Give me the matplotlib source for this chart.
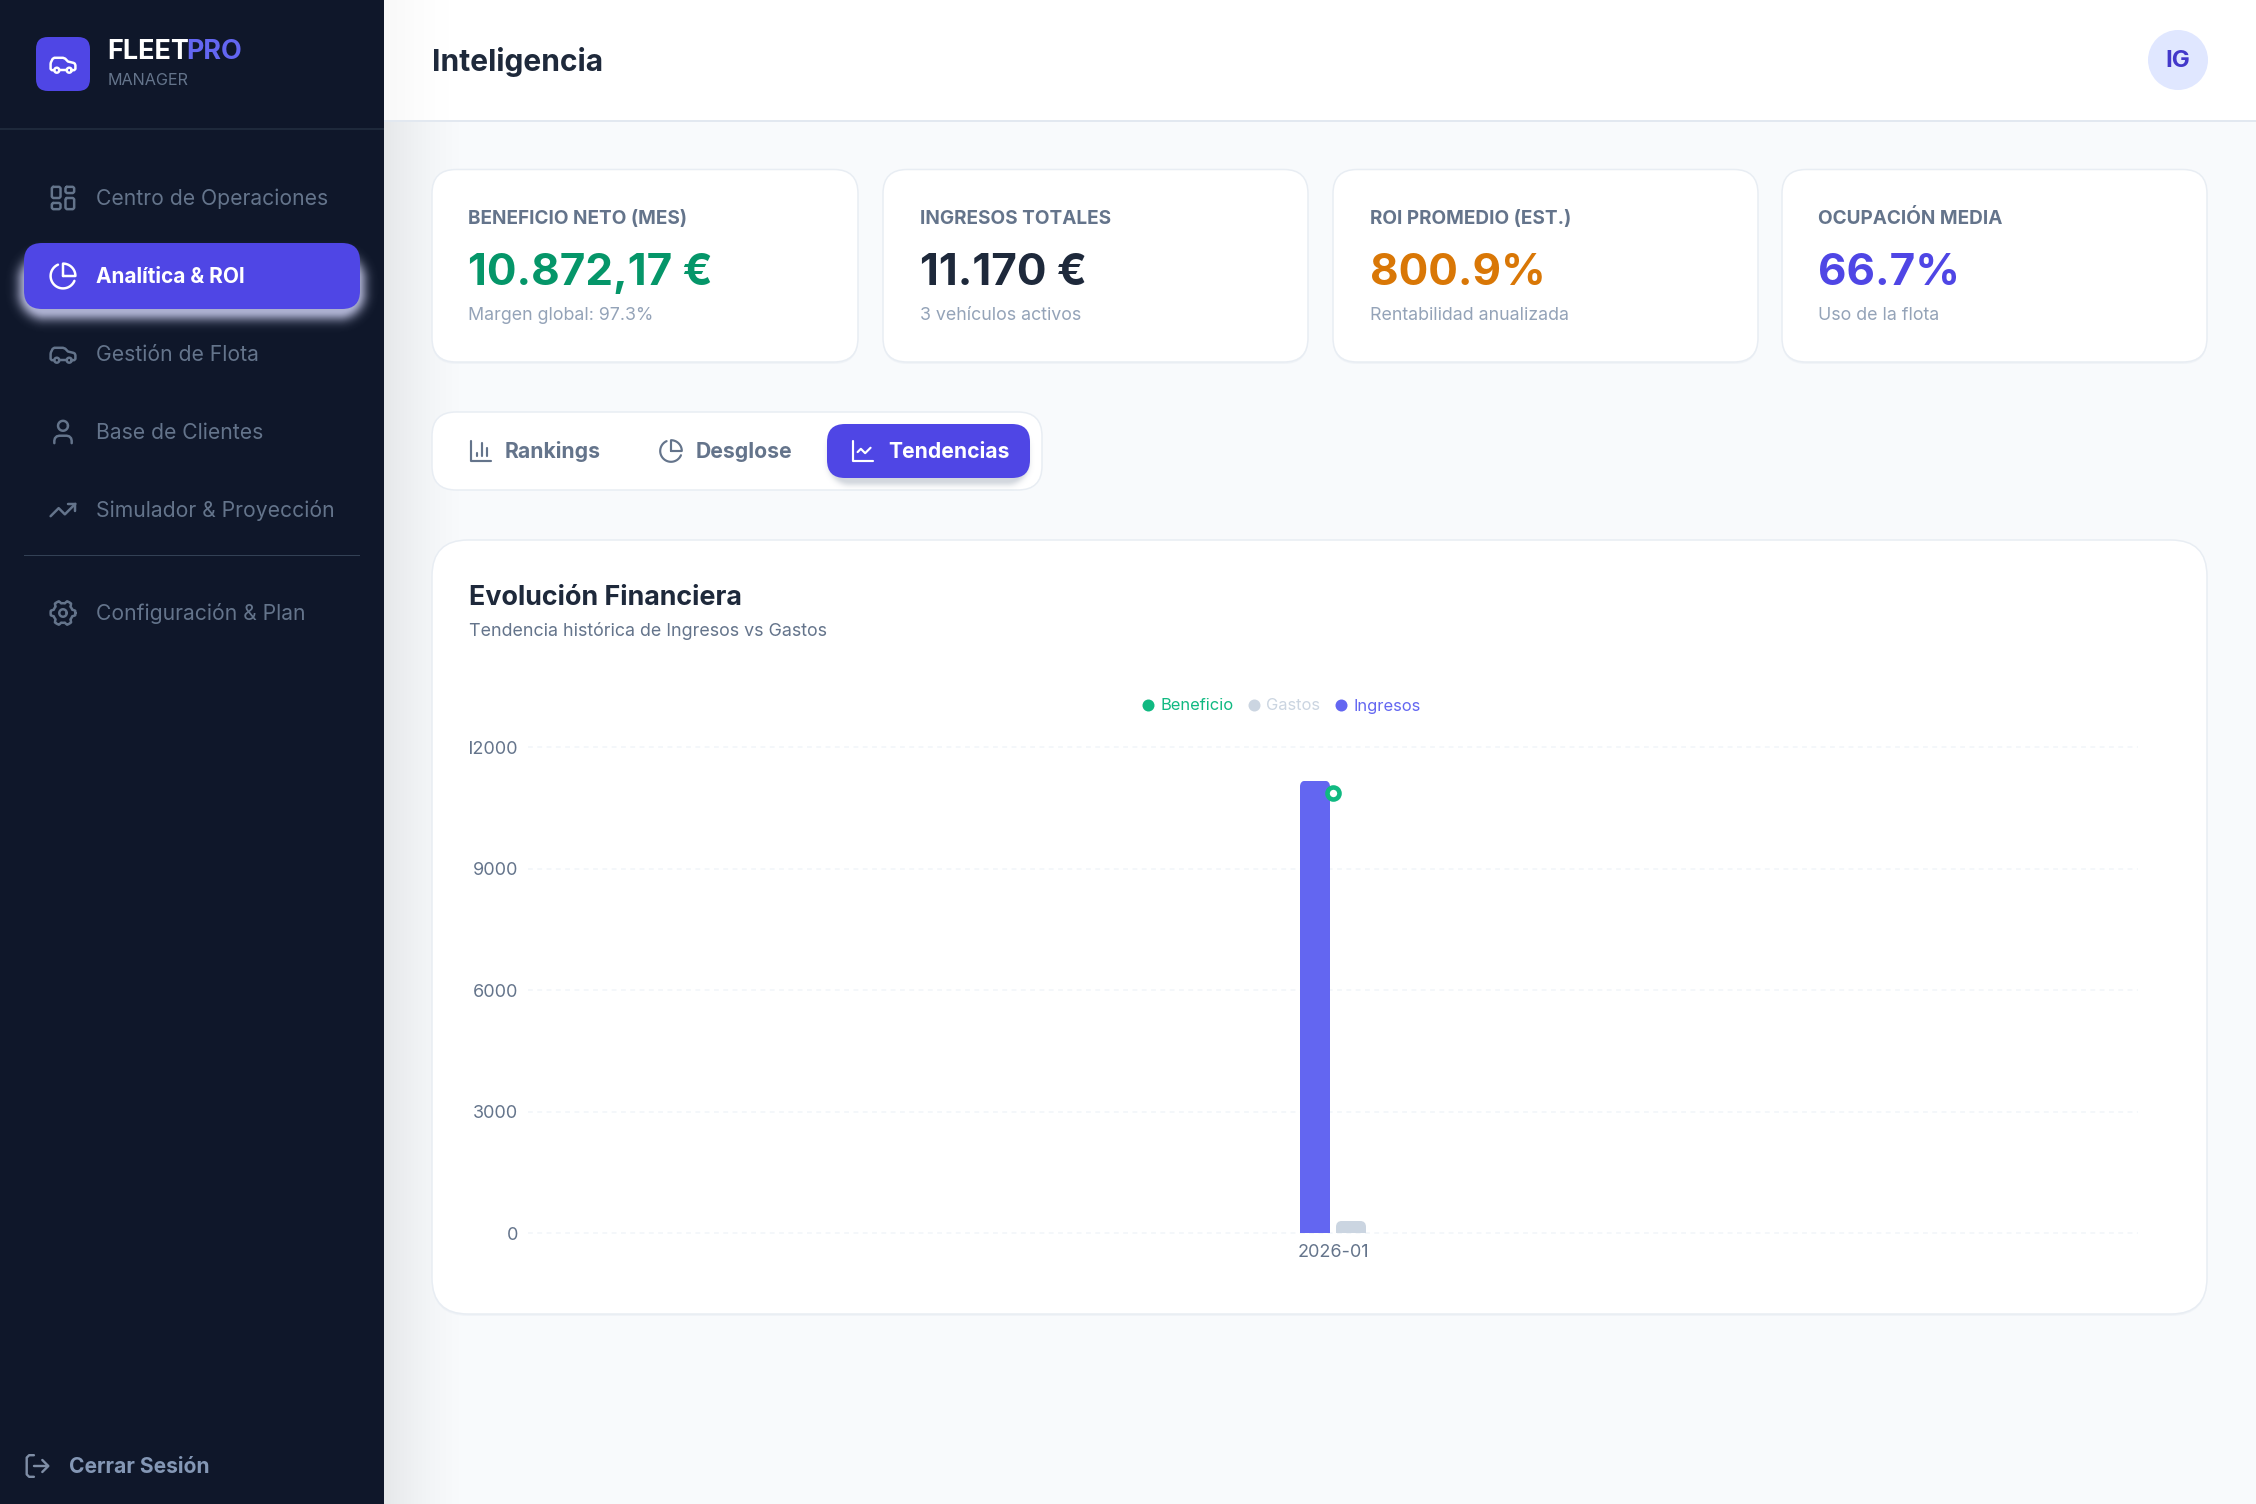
import numpy as np
import matplotlib
matplotlib.use("Agg")
import matplotlib.pyplot as plt
from matplotlib.colors import to_rgb
from matplotlib.patches import FancyBboxPatch, Circle
from matplotlib.lines import Line2D
from matplotlib.transforms import Bbox, IdentityTransform

plt.rcParams["font.family"] = ["Inter", "DejaVu Sans"]

W, H = 2256, 1504
PX = 0.72  # px to pt at dpi 100

# Chart data
months = ["2026-01"]
ingresos = [11170]
gastos = [297.83]
beneficio = [10872.17]
y_ticks = [0, 3000, 6000, 9000, 12000]

# Page content
kpi_labels = ["BENEFICIO NETO (MES)", "INGRESOS TOTALES", "ROI PROMEDIO (EST.)", "OCUPACIÓN MEDIA"]
kpi_values = ["10.872,17 €", "11.170 €", "800.9%", "66.7%"]
kpi_notes = ["Margen global: 97.3%", "3 vehículos activos", "Rentabilidad anualizada", "Uso de la flota"]
kpi_colors = ["#059669", "#1e293b", "#d97706", "#4f46e5"]
menu_items = ["Centro de Operaciones", "Analítica & ROI", "Gestión de Flota", "Base de Clientes",
              "Simulador & Proyección", "Configuración & Plan"]

fig = plt.figure(figsize=(W / 100, H / 100), dpi=100, facecolor="#f8fafc")
bg = fig.add_axes([0, 0, 1, 1], zorder=0)
bg.set_xlim(0, W)
bg.set_ylim(H, 0)
bg.axis("off")


def rrect(x0, y0, x1, y1, r, fc, ec="none", lw=0, alpha=None, z=2):
    p = FancyBboxPatch((x0, y0), x1 - x0, y1 - y0, boxstyle=f"round,pad=0,rounding_size={r}",
                       fc=fc, ec=ec, lw=lw * PX, alpha=alpha, zorder=z)
    bg.add_patch(p)
    return p


def rect(x0, y0, x1, y1, color, z=2):
    bg.fill([x0, x1, x1, x0], [y0, y0, y1, y1], color=color, lw=0, zorder=z)


def glow(x0, y0, x1, y1, r, color, amax, sigma, z):
    # soft box-shadow: falloff from the distance to a rounded box
    m = int(sigma * 3)
    xs = np.arange(x0 - m, x1 + m) + 0.5
    ys = np.arange(y0 - m, y1 + m) + 0.5
    gx, gy = np.meshgrid(xs, ys)
    qx = np.abs(gx - (x0 + x1) / 2) - (x1 - x0) / 2 + r
    qy = np.abs(gy - (y0 + y1) / 2) - (y1 - y0) / 2 + r
    d = np.hypot(np.maximum(qx, 0), np.maximum(qy, 0)) + np.minimum(np.maximum(qx, qy), 0) - r
    img = np.zeros(gx.shape + (4,))
    img[..., :3] = to_rgb(color)
    img[..., 3] = amax * np.exp(-(np.maximum(d, 0) / sigma) ** 2)
    bg.imshow(img, extent=[x0 - m, x1 + m, y1 + m, y0 - m], aspect="auto", zorder=z, interpolation="nearest")
    bg.set_xlim(0, W)
    bg.set_ylim(H, 0)


def txt(x, y, s, px, color, weight="normal", **kw):
    return bg.text(x, y, s, fontsize=px * PX, color=color, fontweight=weight, va="baseline", zorder=6, **kw)


def stroke(cx, cy, s, pts, color, lw=2.0):
    pts = np.array(pts, dtype=float)
    bg.plot(cx + (pts[:, 0] - 12) * s, cy + (pts[:, 1] - 12) * s, color=color, lw=lw * s * PX,
            solid_capstyle="round", solid_joinstyle="round", zorder=6)


def arc(ux, uy, r, a0, a1):
    t = np.radians(np.linspace(a0, a1, 40))
    return np.column_stack([ux + r * np.cos(t), uy + r * np.sin(t)])


def icon_box(cx, cy, s, x, y, w, h, color):
    r = 1.0
    pts = [(x + r, y), (x + w - r, y), (x + w, y + r), (x + w, y + h - r), (x + w - r, y + h),
           (x + r, y + h), (x, y + h - r), (x, y + r), (x + r, y)]
    stroke(cx, cy, s, pts, color)


def icon_car(cx, cy, s, color):
    stroke(cx, cy, s, [(19, 17), (21, 17), (22, 16), (22, 13), (21.5, 11.7), (20.5, 11.1), (16, 10), (13.8, 7.7),
                       (12, 7), (5, 7), (3.6, 7.9), (2.2, 10.8), (2, 12), (2, 16), (3, 17), (5, 17)], color)
    stroke(cx, cy, s, arc(7, 17, 2, 0, 360), color)
    stroke(cx, cy, s, [(9, 17), (15, 17)], color)
    stroke(cx, cy, s, arc(17, 17, 2, 0, 360), color)


def icon_pie(cx, cy, s, color):
    stroke(cx, cy, s, arc(12, 12, 10, 23, 246), color)
    stroke(cx, cy, s, np.vstack([[(12, 12)], arc(12, 12, 10, -90, 0), [(12, 12)]]), color)


def icon_gear(cx, cy, s, color):
    t = np.linspace(0, 2 * np.pi, 241)
    r = 7.9 + 2.1 * np.clip(np.cos(6 * t) * 2.2, -1, 1) * 0.5 + 1.05
    stroke(cx, cy, s, np.column_stack([12 + r * np.cos(t), 12 + r * np.sin(t)]), color)
    stroke(cx, cy, s, arc(12, 12, 3, 0, 360), color)


# sidebar and main background
rect(0, 0, 384, H, "#0f172a", z=5)
shade = np.zeros((1, 90, 4))
shade[0, :, 3] = 0.075 * np.linspace(1, 0, 90) ** 1.6
bg.imshow(shade, extent=[384, 474, H, 120], aspect="auto", zorder=1)
bg.set_xlim(0, W)
bg.set_ylim(H, 0)

# header
rect(384, 0, W, 120, "#ffffff", z=2)
rect(384, 120, W, 121.5, "#e2e8f0", z=2)
shade_top = shade.copy()
shade_top[0, :, 3] *= 0.4
bg.imshow(shade_top, extent=[384, 474, 120, 0], aspect="auto", zorder=3)
bg.set_xlim(0, W)
bg.set_ylim(H, 0)
txt(432, 71, "Inteligencia", 30, "#1e293b", "bold")
bg.add_patch(Circle((2178, 60), 30, fc="#e0e7ff", ec="none", zorder=3))
txt(2178, 67, "IG", 24, "#4338ca", "bold", ha="center")

# brand
rrect(36, 37, 90, 91, 12, "#4f46e5", z=6)
icon_car(63, 64, 1.24, "#ffffff")
txt(107.5, 59, "FLEET", 27, "#ffffff", "bold")
txt(186, 59, "PRO", 27, "#6366f1", "bold")
txt(108, 85, "MANAGER", 16.2, "#64748b", "normal")
rect(0, 128, 384, 129.5, "#1e293b", z=6)

# menu
glow(27, 262, 357, 311, 18, "#d4d7fa", 0.8, 10, 5.2)
rrect(24, 243, 360, 309, 18, "#4f46e5", z=5.5)
menu_color = "#64748b"
menu_base = [205, 283, 361, 439, 517, 620]
for i, (label, y) in enumerate(zip(menu_items, menu_base)):
    active = i == 1
    txt(96, y, label, 20.8 if active else 21.1, "#ffffff" if active else menu_color, "bold" if active else "normal")
rect(24, 554.5, 360, 556, "#334155", z=6)

cx = 63
s = 1.24
icon_box(cx, 198, s, 3, 3, 7, 9, menu_color)
icon_box(cx, 198, s, 14, 3, 7, 5, menu_color)
icon_box(cx, 198, s, 14, 12, 7, 9, menu_color)
icon_box(cx, 198, s, 3, 16, 7, 5, menu_color)
icon_pie(cx, 276, s, "#ffffff")
icon_car(cx, 354, s, menu_color)
stroke(cx, 432, s, arc(12, 7, 4, 0, 360), menu_color)
stroke(cx, 432, s, [(19, 21), (19, 19), (18.5, 17), (17, 15.5), (15, 15), (9, 15), (7, 15.5), (5.5, 17), (5, 19),
                    (5, 21)], menu_color)
stroke(cx, 510, s, [(22, 7), (13.5, 15.5), (8.5, 10.5), (2, 17)], menu_color)
stroke(cx, 510, s, [(16, 7), (22, 7), (22, 13)], menu_color)
icon_gear(cx, 613, s, menu_color)

# log out
logout = "#7f8ea6"
stroke(37.5, 1466, 1.2, [(9, 21), (5, 21), (3, 19), (3, 5), (5, 3), (9, 3)], logout)
stroke(37.5, 1466, 1.2, [(16, 17), (21, 12), (16, 7)], logout)
stroke(37.5, 1466, 1.2, [(21, 12), (9, 12)], logout)
txt(69, 1473, "Cerrar Sesión", 21, "#8497b5", "bold")

# kpi cards
card_x = [(432, 858), (883, 1308), (1333, 1758), (1782, 2207)]
for (x0, x1), label, value, note, color in zip(card_x, kpi_labels, kpi_values, kpi_notes, kpi_colors):
    rrect(x0, 171, x1, 364, 24, "#e2e8f0", alpha=0.35, z=1.5)
    rrect(x0, 169.5, x1, 362, 24, "#ffffff", ec="#e8edf3", lw=1.5)
    txt(x0 + 36.5, 224, label, 19, "#64748b", "bold")
    txt(x0 + 36.5, 285, value, 44, color, "bold")
    txt(x0 + 36.5, 320, note, 17.8, "#94a3b8")

# tabs
rrect(432, 412, 1042, 490, 24, "#ffffff", ec="#e8edf3", lw=1.5)
glow(832, 432, 1025, 481, 18, "#64748b", 0.28, 5, 2.2)
rrect(827, 424, 1030, 478, 18, "#4f46e5", z=2.5)
txt(505, 458, "Rankings", 21.2, "#64748b", "bold")
txt(696, 458, "Desglose", 21.2, "#64748b", "bold")
txt(888, 458, "Tendencias", 21.1, "#ffffff", "bold")
t = 1.08
stroke(481, 451, t, [(3, 3), (3, 21), (21, 21)], "#64748b")
stroke(481, 451, t, [(18, 17), (18, 9)], "#64748b")
stroke(481, 451, t, [(13, 17), (13, 5)], "#64748b")
stroke(481, 451, t, [(8, 17), (8, 14)], "#64748b")
icon_pie(671, 451, t, "#64748b")
stroke(863, 451, t, [(3, 3), (3, 21), (21, 21)], "#ffffff")
stroke(863, 451, t, [(19, 9), (14, 14), (10, 10), (7, 13)], "#ffffff")

# chart card
rrect(432, 541, 2207, 1316, 36, "#e2e8f0", alpha=0.35, z=1.5)
rrect(432, 540, 2207, 1314, 36, "#ffffff", ec="#e8edf3", lw=1.5)
txt(469, 605, "Evolución Financiera", 26.9, "#1e293b", "bold")
txt(469, 636, "Tendencia histórica de Ingresos vs Gastos", 17.9, "#64748b")

# chart
ax = fig.add_axes([528 / W, (H - 1233) / H, 1610 / W, 486 / H], zorder=2)
ax.patch.set_visible(False)
for side in ax.spines.values():
    side.set_visible(False)
ax.set_xlim(-0.5, 0.5)
ax.set_ylim(0, 12000)
x = np.arange(len(months), dtype=float)
bar_w = 30 / 1610
bar_off = 18 / 1610
bars_in = ax.bar(x - bar_off, ingresos, bar_w, color="#6366f1", zorder=3)
bars_ga = ax.bar(x + bar_off, gastos, bar_w, color="#cbd5e1", zorder=3)
ax.plot(x, beneficio, color="#10b981", lw=3 * PX, marker="o", ms=12 * PX, mew=4.6 * PX,
        mfc="#ffffff", mec="#10b981", zorder=4, clip_on=False)
ax.set_yticks(y_ticks)
ax.set_xticks(x, months)
ax.yaxis.grid(True, color="#f1f5f9", lw=1.5 * PX, linestyle=(0, (3.2, 3.0)), zorder=0)
ax.set_axisbelow(True)
ax.tick_params(length=0, labelsize=18 * PX, labelcolor="#64748b")
ax.tick_params(axis="y", pad=10 * PX)
ax.tick_params(axis="x", pad=11 * PX)
for gl in ax.get_ygridlines():
    gl.set_clip_on(False)

# rounded tops on the bars
for b in list(bars_in) + list(bars_ga):
    e = b.get_window_extent()
    clip = FancyBboxPatch((e.x0, e.y0 - 20), e.width, e.height + 20, boxstyle="round,pad=0,rounding_size=6",
                          transform=IdentityTransform())
    b.set_clip_path(clip)

# the first digit of the top label is cut by the card padding
fig.canvas.draw()
for lab in ax.get_yticklabels():
    if lab.get_text().startswith("12"):
        lab.set_clip_on(True)
        lab.set_clip_box(Bbox([[470, 0], [W, H]]))

handles = [Line2D([], [], ls="", marker="o", ms=12 * PX, color=c, mew=0) for c in ("#10b981", "#cbd5e1", "#6366f1")]
leg = ax.legend(handles, ["Beneficio", "Gastos", "Ingresos"], ncol=3, frameon=False, fontsize=16.5 * PX,
                labelcolor=["#10b981", "#cbd5e1", "#6366f1"], handlelength=0.75, handletextpad=0.38,
                columnspacing=0.875, borderpad=0, borderaxespad=0,
                loc="center", bbox_to_anchor=(1281, H - 706), bbox_transform=IdentityTransform())

fig.savefig("out.png", dpi=100)
